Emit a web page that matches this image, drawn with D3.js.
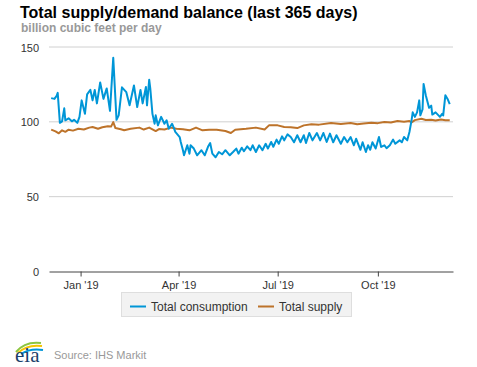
<!DOCTYPE html>
<html>
<head>
<meta charset="utf-8">
<script src="https://cdn.jsdelivr.net/npm/d3@7"></script>
<style>
  body { margin: 0; background: #fff; }
  svg { font-family: "Liberation Sans", Arial, sans-serif; }
</style>
</head>
<body>
<div id="chart"></div>
<script>
// consumption, billion cubic feet per day
var consumptionDates = ["2018-12-05","2018-12-08","2018-12-10","2018-12-11","2018-12-13","2018-12-15","2018-12-17","2018-12-18","2018-12-21","2018-12-24","2018-12-26","2018-12-29","2018-12-31",
  "2019-01-02","2019-01-05","2019-01-07","2019-01-10","2019-01-12","2019-01-14","2019-01-16","2019-01-19","2019-01-22","2019-01-25","2019-01-28","2019-01-31",
  "2019-02-03","2019-02-05","2019-02-08","2019-02-12","2019-02-15","2019-02-19","2019-02-22","2019-02-25","2019-02-27",
  "2019-03-02","2019-03-03","2019-03-05","2019-03-06","2019-03-08","2019-03-10","2019-03-11","2019-03-13","2019-03-16","2019-03-19","2019-03-21","2019-03-23","2019-03-26","2019-03-28","2019-03-29",
  "2019-04-02","2019-04-03","2019-04-05","2019-04-06","2019-04-09","2019-04-11","2019-04-12","2019-04-15","2019-04-18","2019-04-22","2019-04-25","2019-04-28","2019-04-30",
  "2019-05-02","2019-05-05","2019-05-08","2019-05-11","2019-05-14","2019-05-18","2019-05-21","2019-05-24","2019-05-26","2019-05-29","2019-05-31",
  "2019-06-03","2019-06-06","2019-06-08","2019-06-11","2019-06-14","2019-06-17","2019-06-20","2019-06-22","2019-06-25","2019-06-27","2019-06-30",
  "2019-07-02","2019-07-05","2019-07-07","2019-07-10","2019-07-13","2019-07-16","2019-07-19","2019-07-22","2019-07-25","2019-07-27","2019-07-30",
  "2019-08-02","2019-08-06","2019-08-09","2019-08-12","2019-08-15","2019-08-18","2019-08-21","2019-08-24","2019-08-28","2019-08-31",
  "2019-09-03","2019-09-06","2019-09-09","2019-09-11","2019-09-15","2019-09-17","2019-09-20","2019-09-22","2019-09-24","2019-09-26","2019-09-29",
  "2019-10-02","2019-10-04","2019-10-07","2019-10-09","2019-10-12","2019-10-15","2019-10-17","2019-10-21","2019-10-23","2019-10-25","2019-10-28","2019-10-30",
  "2019-11-01","2019-11-02","2019-11-04","2019-11-06","2019-11-08","2019-11-09","2019-11-11","2019-11-12","2019-11-14","2019-11-17","2019-11-19","2019-11-20","2019-11-23","2019-11-27","2019-11-29","2019-11-30",
  "2019-12-02","2019-12-04","2019-12-06"];
var consumptionValues = [115.5,115,117,119,99,100,108.7,100.7,102,100,101,99,103,
  114,105,118,121,114,121,112,126,115,122,107,142.5,
  101,104,122.7,119.5,110.7,124,109.5,121,112,
  123,110.7,127.8,122,105,98.4,104,97.3,103,98.4,100.7,95,98.4,95,92.9,
  89.5,86.2,80.7,77.3,84,78.4,84,81.8,77.3,80.7,77.3,83,85.5,
  78.4,76,79.5,78,80.7,77.3,79.5,81.8,78.4,82.4,80,
  83.3,80.7,84,79.5,84,80.7,85,81.8,86.2,83,87.8,
  85,90,87.3,91.3,89.5,86,90.7,86,90.7,85.5,92.2,
  87.3,92.2,87.3,92.2,86.2,91.8,86,90.7,85,89.5,
  86,89.5,84,88.4,81,86,79.5,84,81,86,81.8,
  89.5,82.9,84,82,84,87.8,85,87.3,86,89.5,87.3,92.9,
  101,106,103,106,114,104,108,125,117.5,109,110.5,104.5,106,103,105,104,
  117.5,115,111.5];

// supply, billion cubic feet per day
var supplyDates = ["2018-12-05","2018-12-09","2018-12-12","2018-12-15","2018-12-18","2018-12-21","2018-12-25","2018-12-30",
  "2019-01-04","2019-01-09","2019-01-12","2019-01-17","2019-01-21","2019-01-26","2019-01-29","2019-01-31",
  "2019-02-02","2019-02-07","2019-02-10","2019-02-16","2019-02-24","2019-02-28",
  "2019-03-05","2019-03-11","2019-03-14","2019-03-19","2019-03-25","2019-03-30",
  "2019-04-05","2019-04-11","2019-04-17","2019-04-23","2019-04-29",
  "2019-05-06","2019-05-14","2019-05-19","2019-05-23","2019-06-02","2019-06-11","2019-06-19","2019-06-23",
  "2019-07-01","2019-07-07","2019-07-13","2019-07-19","2019-07-25","2019-08-01","2019-08-08","2019-08-19","2019-08-28",
  "2019-09-06","2019-09-12","2019-09-18","2019-09-25","2019-10-01","2019-10-07","2019-10-13","2019-10-19","2019-10-25","2019-10-30",
  "2019-11-01","2019-11-04","2019-11-10","2019-11-14","2019-11-19","2019-11-23","2019-11-28","2019-12-02","2019-12-06"];
var supplyValues = [94.5,93.3,92,94,93,94.4,93.8,95,
  94.5,95.8,96.2,95,96,96.7,96.5,99.5,
  95.5,94.7,94,95,95.8,94.5,
  95.8,93.5,94.8,94.5,95.8,95,
  94.7,94,95.8,94,94.4,
  94.3,93.5,92.2,94.4,95,95.8,94.5,97.3,
  97.3,96.2,96,95.5,97.3,98,97.8,98.9,98.2,
  98.9,98,98.5,99.1,98.8,99.5,99.2,100.2,99.8,100.2,
  99.3,100.8,101.7,100.9,101.1,100.5,101.2,100.8,100.7];

var yTicks = [0, 50, 100, 150];
var xTickDates = ["2019-01-01","2019-04-01","2019-07-01","2019-10-01"];
var xTickLabels = ["Jan '19","Apr '19","Jul '19","Oct '19"];
var seriesNames = ["Total consumption", "Total supply"];
var seriesColors = ["#0096d7", "#bd732a"];

var W = 477, H = 367;
var parse = d3.timeParse("%Y-%m-%d");

var svg = d3.select("#chart").append("svg").attr("width", W).attr("height", H);

var x = d3.scaleTime().domain([parse("2018-12-03"), parse("2019-12-09")]).range([49, 453]);
var y = d3.scaleLinear().domain([0, 150]).range([271, 46.5]);

// title
svg.append("text").attr("x", 20).attr("y", 18).attr("font-size", 16).attr("font-weight", "bold")
  .attr("fill", "#000").text("Total supply/demand balance (last 365 days)");
svg.append("text").attr("x", 21).attr("y", 32).attr("font-size", 12).attr("font-weight", "bold")
  .attr("fill", "#999").text("billion cubic feet per day");

// grid lines + y labels
svg.selectAll(".grid").data(yTicks.filter(function(d){ return d > 0; })).enter().append("line")
  .attr("x1", 49).attr("x2", 453)
  .attr("y1", function(d){ return y(d) + 0.5; }).attr("y2", function(d){ return y(d) + 0.5; })
  .attr("stroke", "#d0d0d0").attr("stroke-width", 1);
svg.selectAll(".ylab").data(yTicks).enter().append("text")
  .attr("x", 39).attr("y", function(d){ return y(d) + 5; })
  .attr("text-anchor", "end").attr("font-size", 11).attr("fill", "#333")
  .text(function(d){ return d; });

// x axis
var xAxis = d3.axisBottom(x)
  .tickValues(xTickDates.map(parse))
  .tickFormat(function(d, i){ return xTickLabels[i]; })
  .tickSize(5).tickSizeOuter(0);
var gx = svg.append("g").attr("transform", "translate(0," + (y(0) + 0.5) + ")").call(xAxis);
gx.select(".domain").attr("stroke", "#444");
gx.selectAll(".tick line").attr("stroke", "#444");
gx.selectAll(".tick text").attr("font-size", 11).attr("fill", "#333").attr("dy", "0.9em")
  .attr("font-family", "Liberation Sans, Arial, sans-serif");

// lines
var line = d3.line().x(function(d){ return x(d[0]); }).y(function(d){ return y(d[1]); });
var series = [
  consumptionDates.map(function(d, i){ return [parse(d), consumptionValues[i]]; }),
  supplyDates.map(function(d, i){ return [parse(d), supplyValues[i]]; })
];
[1, 0].forEach(function(k){
  svg.append("path").datum(series[k]).attr("d", line).attr("fill", "none")
    .attr("stroke", seriesColors[k]).attr("stroke-width", 2).attr("stroke-linejoin", "round");
});

// legend
svg.append("rect").attr("x", 121.5).attr("y", 292.5).attr("width", 230).attr("height", 24)
  .attr("fill", "#f2f2f2").attr("stroke", "#dedede");
var legX = [130, 258];
seriesNames.forEach(function(name, i){
  svg.append("line").attr("x1", legX[i]).attr("x2", legX[i] + 16).attr("y1", 306.5).attr("y2", 306.5)
    .attr("stroke", seriesColors[i]).attr("stroke-width", 2);
  svg.append("text").attr("x", legX[i] + 21).attr("y", 311).attr("font-size", 12).attr("fill", "#333").text(name);
});

// footer: eia logo + source
var logo = svg.append("g").attr("transform", "translate(15,340)");
logo.append("path").attr("d", "M1,12 Q10,1 26,3").attr("fill", "none").attr("stroke", "#8dc63f").attr("stroke-width", 2);
logo.append("path").attr("d", "M3,13 Q12,4 27,6").attr("fill", "none").attr("stroke", "#f5c400").attr("stroke-width", 2);
logo.append("path").attr("d", "M6,14 Q15,8 28,10").attr("fill", "none").attr("stroke", "#0096d7").attr("stroke-width", 2);
logo.append("text").attr("x", 0).attr("y", 22).attr("font-family", "Liberation Serif, serif").attr("font-size", 21)
  .attr("fill", "#1b3f6b").text("eia");
svg.append("text").attr("x", 54).attr("y", 359).attr("font-size", 11).attr("fill", "#999").text("Source: IHS Markit");
</script>
</body>
</html>
